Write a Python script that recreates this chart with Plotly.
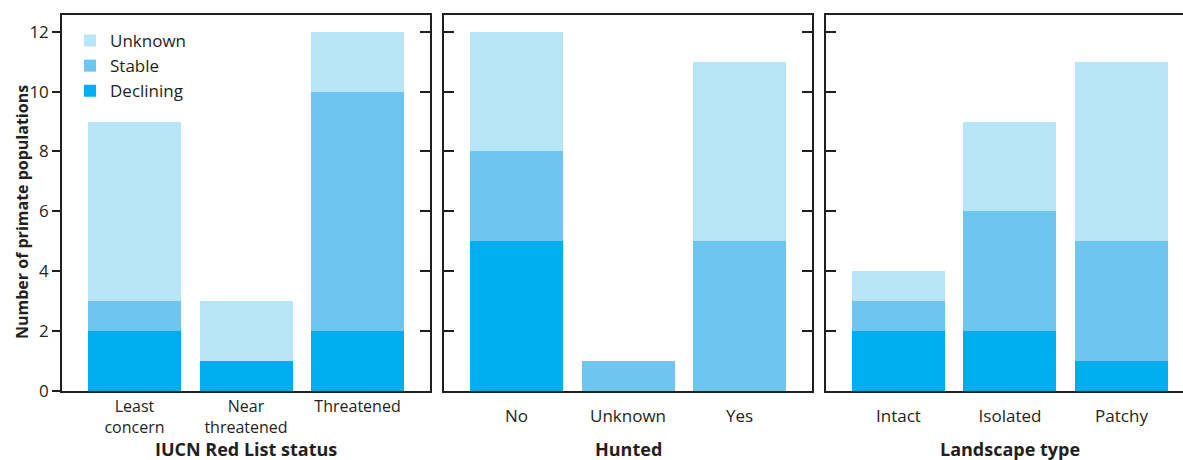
import plotly.graph_objects as go

# ---- data ----
iucn_cats = ["Least<br>concern", "Near<br>threatened", "Threatened"]
iucn_declining = [2, 1, 2]
iucn_stable = [1, 0, 8]
iucn_unknown = [6, 2, 2]

hunted_cats = ["No", "Unknown", "Yes"]
hunted_declining = [5, 0, 0]
hunted_stable = [3, 1, 5]
hunted_unknown = [4, 0, 6]

land_cats = ["Intact", "Isolated", "Patchy"]
land_declining = [2, 2, 1]
land_stable = [1, 4, 4]
land_unknown = [1, 3, 6]

panel_titles = ["IUCN Red List status", "Hunted", "Landscape type"]
y_ticks = [0, 2, 4, 6, 8, 10, 12]

series_names = ["Declining", "Stable", "Unknown"]
legend_rank = {"Unknown": 1, "Stable": 2, "Declining": 3}
colors = {"Declining": "#00aeef", "Stable": "#6ec6ee", "Unknown": "#b9e5f8"}

panels = [
    (iucn_cats, [iucn_declining, iucn_stable, iucn_unknown]),
    (hunted_cats, [hunted_declining, hunted_stable, hunted_unknown]),
    (land_cats, [land_declining, land_stable, land_unknown]),
]

FONT = "Open Sans"
TXT = "#231f20"
LINE = "#231f20"

fig = go.Figure()
for i, (cats, vals) in enumerate(panels):
    ax = "" if i == 0 else str(i + 1)
    for name, v in zip(series_names, vals):
        fig.add_trace(go.Bar(
            x=cats, y=v, name=name, marker_color=colors[name],
            marker_line_width=0, width=0.834,
            xaxis="x" + ax, yaxis="y" + ax,
            legendgroup=name, legendrank=legend_rank[name], showlegend=(i == 0),
        ))
# helper trace for overlay axis (right-side inward ticks on panel 1)
fig.add_trace(go.Scatter(x=[iucn_cats[0]], y=[None], xaxis="x", yaxis="y4",
                         showlegend=False, hoverinfo="skip", mode="markers"))

W, H = 1183, 460
L, T, B = 62, 15, 69
pw = W - L
def dom(a, b):
    return [(a - L) / pw, (b - L) / pw]

yr = [0, 376 / 29.94]
xr_full = [-0.65, 2.65]
xr_cut = [-0.65, -0.65 + (1183 - 826) / 111.5]

common_x = dict(showline=True, linecolor=LINE, linewidth=1.5, mirror=True,
                ticks="", showgrid=False, zeroline=False, type="category")
common_y = dict(range=yr, tickvals=y_ticks, showgrid=False, zeroline=False,
                showline=True, linecolor=LINE, linewidth=1.5,
                tickcolor=LINE, tickwidth=1.5,
                tickfont=dict(family=FONT, size=17, color=TXT))

fig.update_layout(
    width=W, height=H,
    margin=dict(l=L, r=0, t=T, b=B),
    paper_bgcolor="white", plot_bgcolor="white",
    barmode="stack", bargap=0,
    font=dict(family=FONT, color=TXT),
    xaxis=dict(domain=dom(62, 430), range=xr_full, anchor="y", ticklabelstandoff=0,
               tickfont=dict(family=FONT, size=16, color=TXT), **common_x),
    xaxis2=dict(domain=dom(444, 812), range=xr_full, anchor="y2", ticklabelstandoff=9,
                tickfont=dict(family=FONT, size=17, color=TXT), **common_x),
    xaxis3=dict(domain=dom(826, 1183), range=xr_cut, anchor="y3", ticklabelstandoff=9,
                tickfont=dict(family=FONT, size=17, color=TXT), **common_x),
    yaxis=dict(anchor="x", ticks="outside", ticklen=8, mirror=True, **common_y),
    yaxis4=dict(anchor="x", overlaying="y", side="right", ticks="inside", ticklen=10,
                showticklabels=False, **{k: v for k, v in common_y.items() if k != "showline"},
                ),
    yaxis2=dict(anchor="x2", ticks="inside", ticklen=10, mirror="ticks",
                showticklabels=False, **common_y),
    yaxis3=dict(anchor="x3", ticks="inside", ticklen=10, mirror=False,
                showticklabels=False, **common_y),
    legend=dict(x=(70 - L) / pw, y=1 - (23 - T) / 376, xanchor="left", yanchor="top",
                traceorder="normal", tracegroupgap=0,
                bgcolor="rgba(0,0,0,0)",
                font=dict(family=FONT, size=17, color=TXT)),
    showlegend=True,
)
fig.layout.yaxis4.showline = False

for i, t in enumerate(panel_titles):
    cx = [246, 628, 1010][i]
    fig.add_annotation(text="<b>" + t + "</b>", xref="paper", x=(cx - L) / pw,
                       yref="paper", y=0, yshift=-58, xanchor="center", yanchor="middle",
                       showarrow=False, borderpad=0,
                       font=dict(family=FONT, size=18, color=TXT))

fig.add_annotation(text="<b>Number of primate populations</b>", xref="paper", x=0,
                   xshift=-40, yref="paper", y=(391 - 212) / 376, textangle=-90,
                   xanchor="center", yanchor="middle", showarrow=False,
                   font=dict(family=FONT, size=16, color=TXT))

fig.write_html("out.html")
